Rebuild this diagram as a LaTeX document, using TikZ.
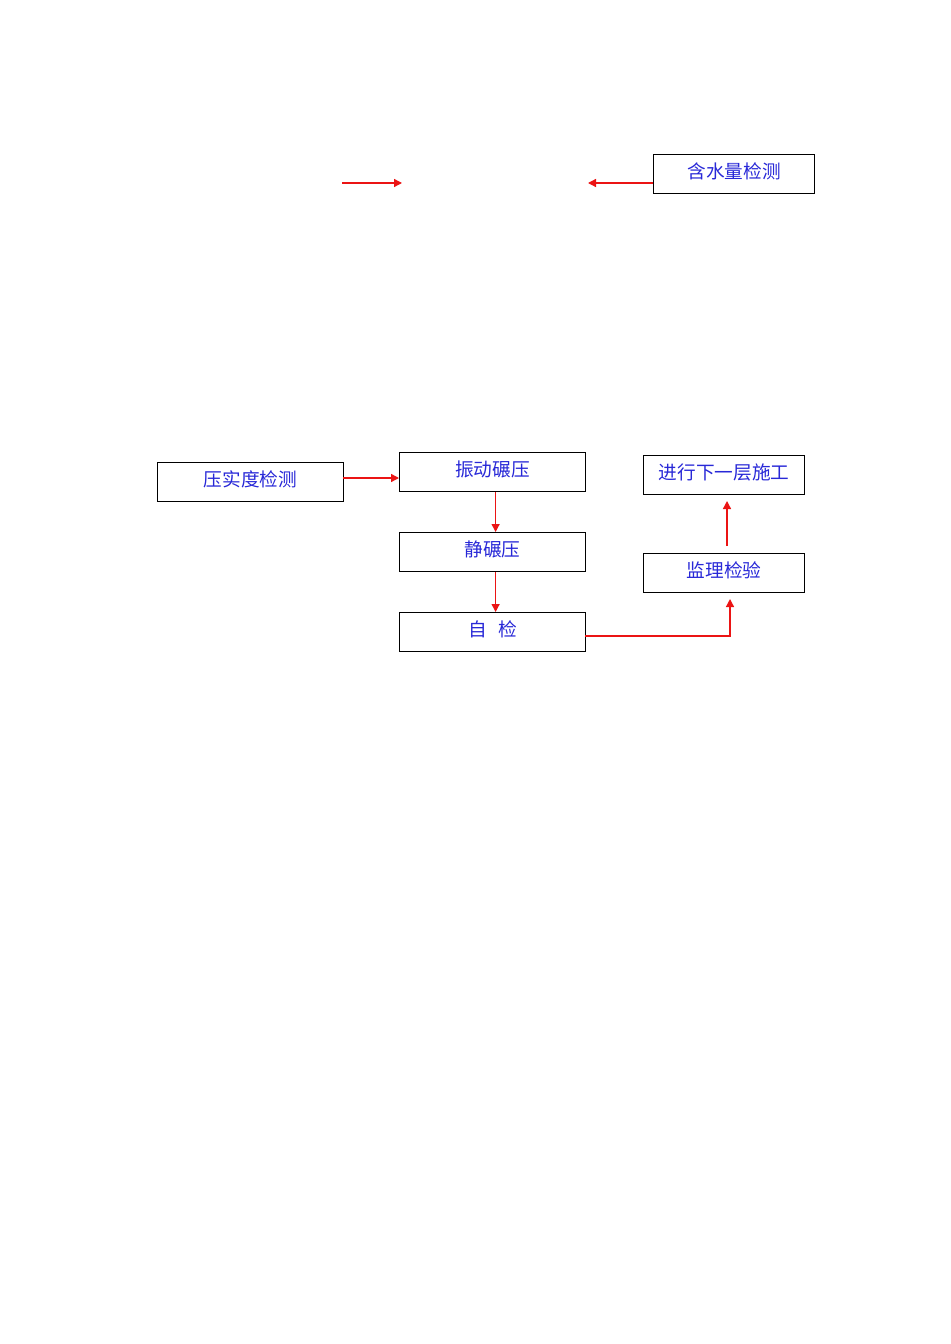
\documentclass[tikz,border=0pt]{standalone}
\usepackage{fontspec}
\newfontfamily\cjk{Noto Sans CJK SC}
\usetikzlibrary{arrows.meta}
\definecolor{txtblue}{RGB}{40,40,215}
\definecolor{arrred}{RGB}{235,20,20}
\tikzset{
  box/.style={draw=black, line width=0.9pt, inner sep=0pt, minimum height=29.25pt,
    anchor=north west, text=txtblue},
  boxtext/.style={font=\cjk\fontsize{14pt}{16pt}\selectfont, text=txtblue, inner sep=0pt},
  flow/.style={draw=arrred, line width=1pt, -{Triangle[length=6pt,width=6pt]}}
}
\begin{document}
\begin{tikzpicture}[x=0.75pt,y=-0.75pt]
\useasboundingbox (0,0) rectangle (950,1344);
% top row
\node[box, minimum width=120.75pt] (hsl) at (653,154) {};
\node[boxtext] (hslt) at ([yshift=2.25pt]hsl.center) {含水量检测};
\coordinate (t1a) at (342,183);
\coordinate (t1b) at (402,183);
\coordinate (t2b) at (588,183);
\draw[flow] (t1a) -- (t1b);
\draw[flow] (hsl.west |- t2b) -- (t2b);
% flow chart
\node[box, minimum width=139.5pt] (ysd) at (157,462) {};
\node[boxtext] (ysdt) at ([yshift=2pt]ysd.center) {压实度检测};
\node[box, minimum width=139.5pt] (zd) at (399,452) {};
\node[boxtext] (zdt) at ([yshift=2pt]zd.center) {振动碾压};
\node[box, minimum width=139.5pt] (jn) at (399,532) {};
\node[boxtext] (jnt) at ([yshift=2pt]jn.center) {静碾压};
\node[box, minimum width=139.5pt] (zj) at (399,612) {};
\node[boxtext] (zjt) at ([yshift=2pt]zj.center) {自\hspace{0.6em}检};
\node[box, minimum width=120.75pt] (jx) at (643,455) {};
\node[boxtext] (jxt) at ([yshift=2pt]jx.center) {进行下一层施工};
\node[box, minimum width=120.75pt] (jl) at (643,553) {};
\node[boxtext] (jlt) at ([yshift=2pt]jl.center) {监理检验};
\coordinate (ya) at (343,478);
\draw[flow] (ya) -- (ya -| zd.west);
\draw[flow] ([xshift=2.25pt]zd.south) -- ([xshift=2.25pt]jn.north);
\draw[flow] ([xshift=2.25pt]jn.south) -- ([xshift=2.25pt]zj.north);
\coordinate (za) at (585,636);
\coordinate (zc) at (730,636);
\coordinate (zt) at (730,599);
\draw[flow] (za) -- (zc) -- (zt);
\coordinate (la) at (727,546);
\coordinate (lb) at (727,501);
\draw[flow] (la) -- (lb);
\end{tikzpicture}
\end{document}
